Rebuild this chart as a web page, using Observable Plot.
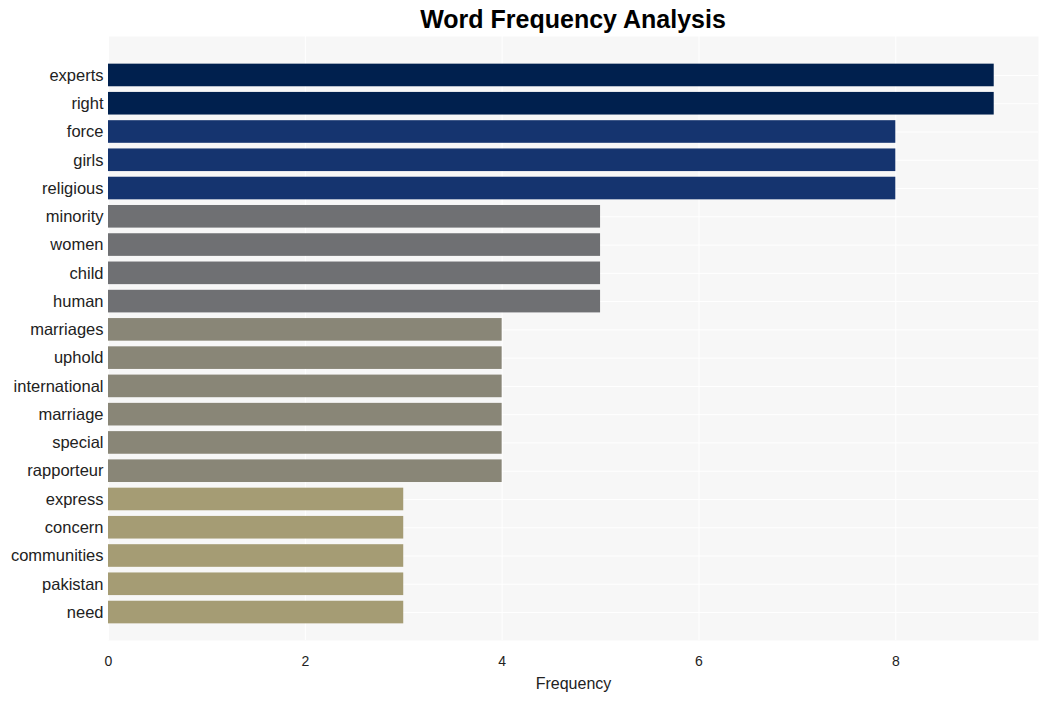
<!DOCTYPE html>
<html>
<head>
<meta charset="utf-8">
<script src="https://cdn.jsdelivr.net/npm/d3@7"></script>
<script src="https://cdn.jsdelivr.net/npm/@observablehq/plot@0.6"></script>
<style>
  html, body { margin: 0; padding: 0; background: #ffffff; }
  #title { height: 36px; line-height: 39px; box-sizing: border-box; padding-left: 108px; padding-right: 10px; text-align: center; font-family: "Liberation Sans", Arial, sans-serif; font-weight: bold; font-size: 25px; color: #000; }
</style>
</head>
<body>
<div id="title">Word Frequency Analysis</div>
<div id="chart"></div>
<script>
const words = ["experts","right","force","girls","religious","minority","women","child","human","marriages","uphold","international","marriage","special","rapporteur","express","concern","communities","pakistan","need"];
const counts = [9,9,8,8,8,5,5,5,5,4,4,4,4,4,4,3,3,3,3,3];
const colorLevels = [3,4,5,8,9];
const colorValues = ["#a59c74","#898677","#6f7073","#15346f","#00204e"];
const xTicks = [0,2,4,6,8];

const data = words.map((w, i) => ({word: w, count: counts[i]}));

const chart = Plot.plot({
  width: 1048,
  height: 665,
  marginLeft: 108,
  marginRight: 10,
  marginTop: 0,
  marginBottom: 61,
  style: {fontFamily: "'Liberation Sans', Arial, sans-serif", fontSize: "16px", color: "#222"},
  x: {domain: [0, 9.45], ticks: xTicks, label: "Frequency", labelAnchor: "center", labelArrow: "none", tickSize: 0},
  y: {domain: words, padding: 0.2, round: false, insetTop: 22, insetBottom: 11, label: null, tickSize: 0},
  color: {type: "ordinal", domain: colorLevels, range: colorValues},
  marks: [
    Plot.frame({fill: "#f7f7f7", stroke: null}),
    Plot.gridX(xTicks, {stroke: "#ffffff", strokeOpacity: 1, strokeWidth: 1}),
    Plot.gridY(words, {stroke: "#ffffff", strokeOpacity: 1, strokeWidth: 1}),
    Plot.barX(data, {y: "word", x: "count", fill: d => d.count}),
    Plot.axisX({ticks: xTicks, tickSize: 0, tickPadding: 16, fontSize: 14, label: null}),
    Plot.text(["Frequency"], {frameAnchor: "bottom", dy: 48, fontSize: 16, fill: "#222"}),
    Plot.axisY({tickSize: 0, tickPadding: 5, fontSize: 16.5, label: null})
  ]
});
document.getElementById("chart").appendChild(chart);
</script>
</body>
</html>
